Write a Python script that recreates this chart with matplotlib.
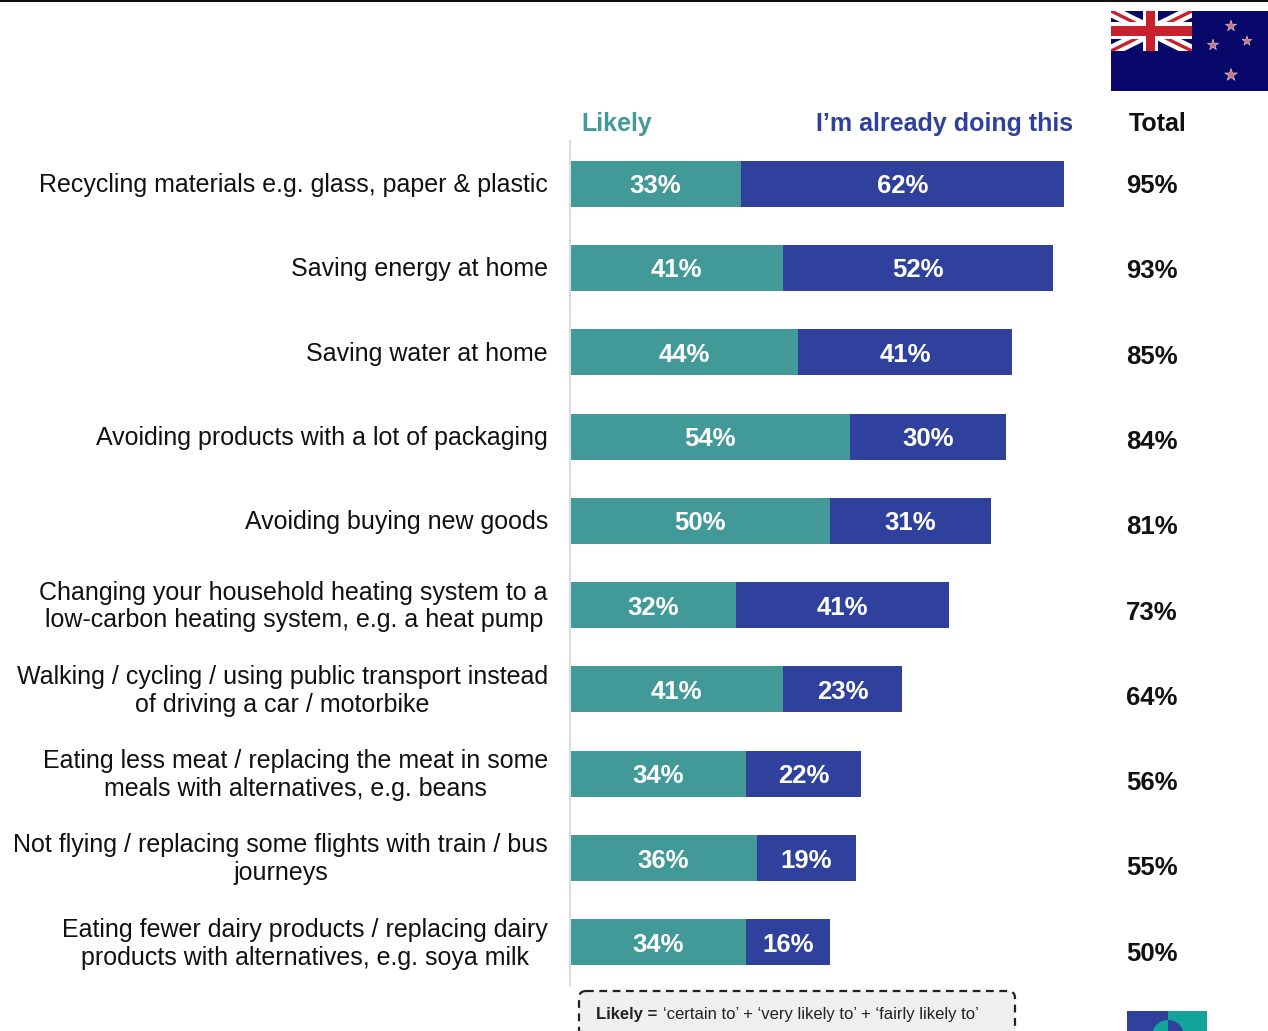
import matplotlib
matplotlib.use('Agg')
import matplotlib.pyplot as plt
from matplotlib.patches import Rectangle, Wedge, FancyBboxPatch
from matplotlib.transforms import ScaledTranslation
import numpy as np

plt.rcParams['font.family'] = ['Liberation Sans', 'DejaVu Sans']

W, H = 1268, 1031
TEAL = '#429a98'
BLUE = '#2f419c'
NAVY = '#08086a'
RED = '#c8202f'

categories = [
    'Recycling materials e.g. glass, paper & plastic',
    'Saving energy at home',
    'Saving water at home',
    'Avoiding products with a lot of packaging',
    'Avoiding buying new goods',
    'Changing your household heating system to a\nlow-carbon heating system, e.g. a heat pump',
    'Walking / cycling / using public transport instead\nof driving a car / motorbike',
    'Eating less meat / replacing the meat in some\nmeals with alternatives, e.g. beans',
    'Not flying / replacing some flights with train / bus\njourneys',
    'Eating fewer dairy products / replacing dairy\nproducts with alternatives, e.g. soya milk',
]
likely = [33, 41, 44, 54, 50, 32, 41, 34, 36, 34]
doing = [62, 52, 41, 30, 31, 41, 23, 22, 19, 16]
totals = [95, 93, 85, 84, 81, 73, 64, 56, 55, 50]

fig = plt.figure(figsize=(W / 100, H / 100), dpi=100, facecolor='white')

# overlay in pixel coordinates for the header, flag, logo and notes
bg = fig.add_axes([0, 0, 1, 1])
bg.set_xlim(0, W)
bg.set_ylim(H, 0)
bg.axis('off')

# bar panel: 1% is 5.2 px wide
ax = fig.add_axes([569.5 / W, 1 - 984.5 / H, 520 / W, 843 / H])
ax.set_xlim(0, 100)
ax.set_ylim(9.5, -0.5)
ax.patch.set_alpha(0)
for s in ['top', 'right', 'bottom']:
    ax.spines[s].set_visible(False)
ax.spines['left'].set_color('#dcdcdc')
ax.spines['left'].set_linewidth(1.5)
ax.set_xticks([])
ax.set_yticks(range(len(categories)))
ax.set_yticklabels(categories, fontsize=18, color='#111111', linespacing=1.2, ha='right',
                   multialignment='center')
ax.tick_params(axis='y', length=0, pad=15.5)
# two-line labels sit a bit higher than one-line labels
for lab in ax.get_yticklabels():
    up = 2.2 if '\n' in lab.get_text() else 0.8
    lab.set_transform(lab.get_transform() + ScaledTranslation(0, up / 72, fig.dpi_scale_trans))

y = np.arange(len(categories))
ax.barh(y, likely, height=0.545, color=TEAL)
ax.barh(y, doing, left=likely, height=0.545, color=BLUE)
for i in y:
    ax.text(likely[i] / 2, i + 0.03, f'{likely[i]}%', color='white', fontsize=18.5,
            fontweight='bold', ha='center', va='center')
    ax.text(likely[i] + doing[i] / 2, i + 0.03, f'{doing[i]}%', color='white', fontsize=18.5,
            fontweight='bold', ha='center', va='center')
    bg.text(1152, 186 + 85.3 * i, f'{totals[i]}%', color='#111111', fontsize=18.5,
            fontweight='bold', ha='center', va='center')

# column headers
bg.text(581, 124, 'Likely', color=TEAL, fontsize=18, fontweight='bold', va='center')
bg.text(816, 124, "I\u2019m already doing this", color=BLUE, fontsize=18, fontweight='bold', va='center')
bg.text(1129, 124, 'Total', color='#111111', fontsize=18, fontweight='bold', va='center')

# rule along the top edge
bg.add_patch(Rectangle((0, 0), W, 1.5, color='#111111', lw=0))

# flag
bg.add_patch(Rectangle((1111, 11), 157, 80, color=NAVY, lw=0))
x0, x1, y0, y1 = 1111, 1192, 11, 51
jack = Rectangle((x0, y0), x1 - x0, y1 - y0, transform=bg.transData, fill=False, lw=0)
bg.add_patch(jack)
for a, b in [((x0, y0), (x1, y1)), ((x0, y1), (x1, y0))]:
    for col, lw in [('white', 8.5), (RED, 2.4)]:
        ln, = bg.plot([a[0], b[0]], [a[1], b[1]], color=col, lw=lw, solid_capstyle='projecting')
        ln.set_clip_path(jack)
bg.add_patch(Rectangle((x0, 22), x1 - x0, 17, color='white', lw=0, zorder=3))
bg.add_patch(Rectangle((1143, y0), 15, y1 - y0, color='white', lw=0, zorder=3))
bg.add_patch(Rectangle((x0, 25.5), x1 - x0, 10, color=RED, lw=0, zorder=3))
bg.add_patch(Rectangle((1146, y0), 9, y1 - y0, color=RED, lw=0, zorder=3))
bg.scatter([1231, 1213, 1247, 1231], [26, 45, 41, 75], marker='*',
           s=[70, 70, 55, 90], color='#c9767a', edgecolors='#e8d0d0', linewidths=0.4, zorder=5)

# definition note, cut off by the lower edge
bg.add_patch(FancyBboxPatch((579, 991), 436, 60, boxstyle='round,pad=0,rounding_size=7',
                            facecolor='#efefef', edgecolor='#222222', lw=1.6, linestyle=(0, (3.5, 2.5))))
bg.text(596, 1014.5, 'Likely =', fontsize=12, fontweight='bold', color='#222222', va='center')
bg.text(663, 1014.5, '\u2018certain to\u2019 + \u2018very likely to\u2019 + \u2018fairly likely to\u2019',
        fontsize=12, color='#222222', va='center')

# logo square
bg.add_patch(Rectangle((1127, 1011), 41, 22, color=BLUE, lw=0))
bg.add_patch(Rectangle((1168, 1011), 39, 22, color='#12a39a', lw=0))
bg.add_patch(Wedge((1168, 1036), 16, 90, 270, color='#12a39a', lw=0))
bg.add_patch(Wedge((1168, 1036), 16, 270, 450, color=BLUE, lw=0))

fig.savefig('out.png', dpi=100)
